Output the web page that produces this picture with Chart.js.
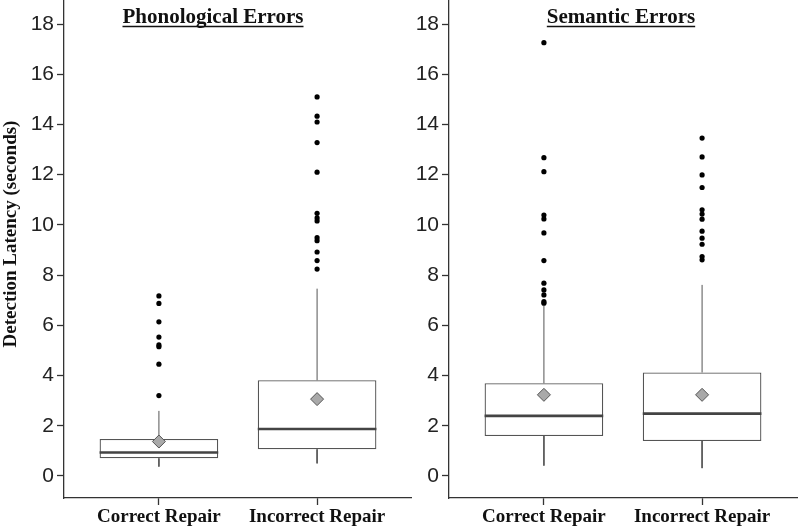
<!DOCTYPE html>
<html>
<head>
<meta charset="utf-8">
<script src="https://cdn.jsdelivr.net/npm/chart.js@4/dist/chart.umd.min.js"></script>
<style>
  html, body { margin: 0; padding: 0; background: #fff; }
  #wrap { position: relative; width: 800px; height: 530px; }
  canvas { position: absolute; top: 0; }
  #phon { left: 0; }
  #sem { left: 412px; }
</style>
</head>
<body>
<div id="wrap">
  <canvas id="phon" width="412" height="530"></canvas>
  <canvas id="sem" width="388" height="530"></canvas>
</div>
<script>
// ---- data (seconds) ----
const categories = ['Correct Repair', 'Incorrect Repair'];
const yTicks = [0, 2, 4, 6, 8, 10, 12, 14, 16, 18];

// phonological errors
const phonQ1 = [0.70, 1.06];
const phonMedian = [0.93, 1.87];
const phonQ3 = [1.47, 3.81];
const phonLow = [0.37, 0.50];
const phonHigh = [2.59, 7.46];
const phonMean = [1.37, 3.06];
const phonOutCorrect = [7.17, 6.87, 6.14, 5.53, 5.22, 5.15, 4.45, 3.20];
const phonOutIncorrect = [15.1, 14.33, 14.1, 13.28, 12.1, 10.46, 10.28, 10.16, 9.49, 9.37, 8.92, 8.58, 8.24];

// semantic errors
const semQ1 = [1.59, 1.39];
const semMedian = [2.39, 2.48];
const semQ3 = [3.69, 4.12];
const semLow = [0.41, 0.31];
const semHigh = [6.78, 7.61];
const semMean = [3.23, 3.23];
const semOutCorrect = [17.26, 12.68, 12.12, 10.39, 10.24, 9.68, 8.58, 7.68, 7.41, 7.21, 6.94, 6.88];
const semOutIncorrect = [13.46, 12.71, 11.99, 11.49, 10.6, 10.43, 10.23, 9.75, 9.47, 9.23, 8.74, 8.61];

Chart.defaults.font.family = 'Liberation Sans';
const HALF = 0.375; // half box width in category units

/* ======================================
        TEXT OVERLAY (titles, y label)
========================================*/
const labelPlugin = {
  id: 'labels',
  afterDraw(chart, args, opts) {
    const ctx = chart.ctx;
    ctx.save();
    ctx.fillStyle = '#111';
    ctx.strokeStyle = '#111';
    ctx.font = 'bold 21px "Liberation Serif"';
    ctx.textAlign = 'center';
    ctx.textBaseline = 'alphabetic';
    ctx.fillText(opts.title, opts.titleX, 23);
    const w = ctx.measureText(opts.title).width;
    ctx.lineWidth = 1.4;
    ctx.beginPath();
    ctx.moveTo(opts.titleX - w / 2, 26.5);
    ctx.lineTo(opts.titleX + w / 2, 26.5);
    ctx.stroke();
    if (opts.yLabel) {
      ctx.translate(11, 234);
      ctx.rotate(-Math.PI / 2);
      ctx.font = 'bold 19px "Liberation Serif"';
      ctx.textBaseline = 'middle';
      ctx.fillText(opts.yLabel, 0, 0);
    }
    ctx.restore();
  }
};

function makePanel(id, title, titleX, yLabel, q1, med, q3, lo, hi, mean, outs, yWidth, padRight) {
  const boxes = categories.map((c, i) => ({x: i + 1, y: [q1[i], q3[i]]}));
  let medLines = [];
  let whiskers = [];
  categories.forEach((c, i) => {
    const x = i + 1;
    medLines.push({x: x - HALF, y: med[i]}, {x: x + HALF, y: med[i]}, {x: x, y: null});
    whiskers.push({x: x, y: q3[i]}, {x: x, y: hi[i]}, {x: x, y: null});
    whiskers.push({x: x, y: q1[i]}, {x: x, y: lo[i]}, {x: x, y: null});
  });
  const means = categories.map((c, i) => ({x: i + 1, y: mean[i]}));
  let outPts = [];
  outs.forEach((arr, i) => arr.forEach(v => outPts.push({x: i + 1, y: v})));

  return new Chart(document.getElementById(id), {
    type: 'bar',
    data: {
      datasets: [
        {
          type: 'line', data: whiskers, borderColor: '#555', borderWidth: 1,
          pointRadius: 0, fill: false, order: 3
        },
        {
          data: boxes, backgroundColor: '#fff', borderColor: '#555', borderWidth: 1.3,
          borderSkipped: false, barPercentage: 0.75, categoryPercentage: 1, order: 2
        },
        {
          type: 'line', data: medLines, borderColor: '#444', borderWidth: 2.6,
          pointRadius: 0, fill: false, order: 1
        },
        {
          type: 'scatter', data: means, pointStyle: 'rectRot', pointRadius: 6.5,
          backgroundColor: '#a9a9a9', borderColor: '#555', borderWidth: 1, order: 0
        },
        {
          type: 'scatter', data: outPts, pointRadius: 2.6,
          backgroundColor: '#000', borderColor: '#000', borderWidth: 0, order: 0
        }
      ]
    },
    options: {
      responsive: false,
      devicePixelRatio: 1,
      animation: false,
      layout: { autoPadding: false, padding: { left: 0, right: padRight, top: 0, bottom: 0 } },
      plugins: {
        legend: { display: false },
        tooltip: { enabled: false },
        labels: { title: title, titleX: titleX, yLabel: yLabel }
      },
      scales: {
        x: {
          type: 'linear', min: 0.4, max: 2.6, offset: false,
          afterBuildTicks: s => { s.ticks = categories.map((c, i) => ({value: i + 1})); },
          afterFit: s => { s.height = 32; s.paddingLeft = 0; s.paddingRight = 0; },
          grid: { drawOnChartArea: false, offset: false, tickLength: 7, tickColor: '#333', tickWidth: 1.3 },
          border: { display: true, color: '#333', width: 1.3 },
          ticks: {
            autoSkip: false, maxRotation: 0, padding: 1, color: '#111',
            font: { family: 'Liberation Serif', weight: 'bold', size: 19 },
            callback: v => categories[Math.round(v) - 1]
          }
        },
        y: {
          type: 'linear', min: -0.88, max: 18.96,
          afterBuildTicks: s => { s.ticks = yTicks.map(v => ({value: v})); },
          afterFit: s => { s.width = yWidth; s.paddingTop = 0; s.paddingBottom = 0; },
          grid: { drawOnChartArea: false, tickLength: 7, tickColor: '#333', tickWidth: 1.3 },
          border: { display: true, color: '#333', width: 1.3 },
          ticks: { padding: 3, color: '#222', font: { size: 21 } }
        }
      }
    },
    plugins: [labelPlugin]
  });
}

makePanel('phon', 'Phonological Errors', 213, 'Detection Latency (seconds)',
  phonQ1, phonMedian, phonQ3, phonLow, phonHigh, phonMean,
  [phonOutCorrect, phonOutIncorrect], 64, 0);

makePanel('sem', 'Semantic Errors', 209, null,
  semQ1, semMedian, semQ3, semLow, semHigh, semMean,
  [semOutCorrect, semOutIncorrect], 37, 3);
</script>
</body>
</html>
